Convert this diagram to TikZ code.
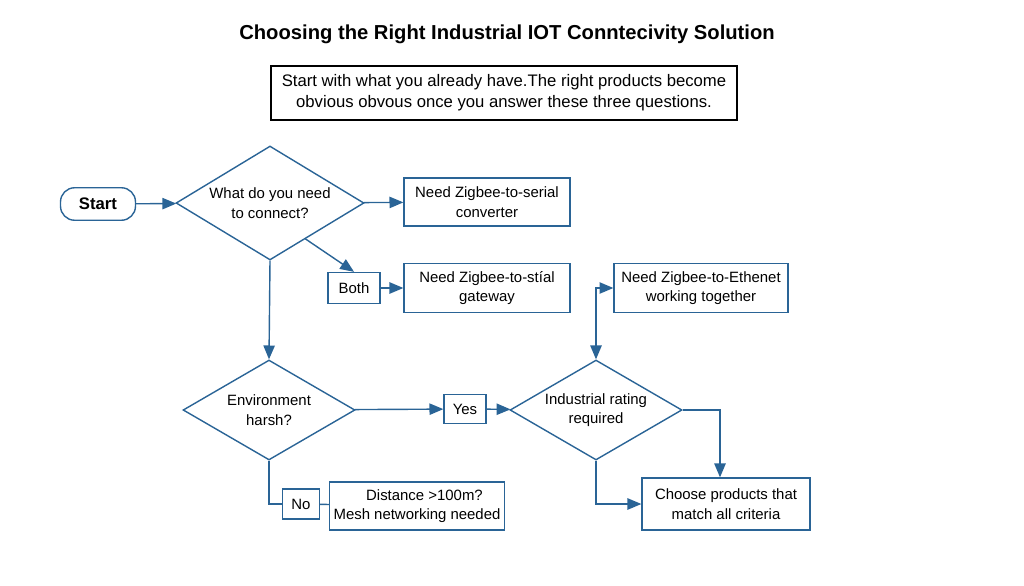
\documentclass[tikz,border=0pt]{standalone}
\usepackage{fontspec}
\setmainfont{Liberation Sans}
\usetikzlibrary{shapes.geometric, arrows}
\definecolor{flowblue}{HTML}{2A6496}
\tikzstyle{startstop} = [rectangle, rounded corners=8pt, minimum width=1.5cm, minimum height=0.65cm, text centered, draw=flowblue, thick, font=\fontsize{9.5}{11}\selectfont\bfseries]
\tikzstyle{decision} = [diamond, aspect=1.65, inner sep=0pt, text centered, draw=flowblue, thick, font=\fontsize{8.5}{11}\selectfont, align=center]
\tikzstyle{code} = [rectangle, text centered, draw=flowblue, thick, font=\fontsize{8.5}{11}\selectfont, align=center, inner sep=1pt]
\tikzstyle{arrow} = [thick, flowblue, ->, >=triangle 45]
\tikzstyle{line} = [thick, flowblue]

\begin{document}
\begin{tikzpicture}[x=0.02cm, y=-0.02cm]
      \useasboundingbox (0,0) rectangle (1024,585);
      \node (title) at (507,34) {\fontsize{11.5}{13}\selectfont\bfseries Choosing the Right Industrial IOT Conntecivity Solution};
      \node (intro) [draw, very thick, minimum width=9.32cm, minimum height=1.08cm, align=center, font=\fontsize{9.5}{12}\selectfont] at (504,93) {Start with what you already have.The right products become\\ obvious obvous once you answer these three questions.};
      \node (start) [startstop] at (98,204) {Start};
      \node (need) [decision, minimum width=3.76cm, minimum height=2.28cm] at (270,203) {What do you need\\ to connect?};
      \node (conv) [code, minimum width=3.32cm, minimum height=0.96cm] at (487,202) {Need Zigbee-to-serial\\ converter};
      \node (both) [code, minimum width=1.04cm, minimum height=0.62cm] at (354,288) {Both};
      \node (gate) [code, minimum width=3.32cm, minimum height=0.98cm] at (487,288) {Need Zigbee-to-stíal\\ gateway};
      \node (eth) [code, minimum width=3.48cm, minimum height=0.98cm] at (701,288) {Need Zigbee-to-Ethenet\\ working together};
      \node (env) [decision, minimum width=3.44cm, minimum height=2cm] at (269,410) {Environment\\ harsh?};
      \node (yes) [code, minimum width=0.84cm, minimum height=0.58cm] at (465,409) {Yes};
      \node (ind) [decision, minimum width=3.44cm, minimum height=2cm] at (596,410) {Industrial rating\\ required};
      \node (no) [code, minimum width=0.74cm, minimum height=0.6cm] at (301,504) {No};
      \node (dist) [code, minimum width=3.5cm, minimum height=0.96cm] at (417,506) {\quad Distance >100m?\\ Mesh networking needed};
      \node (choose) [code, minimum width=3.36cm, minimum height=1.04cm] at (726,504) {Choose products that\\ match all criteria};
      \draw [arrow] (start) -- (need);
      \draw [arrow] (need) -- (conv);
      \draw [arrow] (need.south east) ++(-12,7) -- (both.north);
      \draw [arrow] (both) -- (gate);
      \draw [arrow] (need.south) -- (env.north);
      \draw [arrow] (env) -- (yes);
      \draw [arrow] (yes) -- (ind);
      \draw [arrow, <->] (ind.north) |- (eth.west);
      \draw [arrow] (ind.east) -| ([xshift=-0.12cm]choose.north);
      \draw [arrow] (ind.south) |- (choose.west);
      \draw [line] (env.south) |- (no.west);
      \draw [line] (no) -- (dist);
\end{tikzpicture}
\end{document}
